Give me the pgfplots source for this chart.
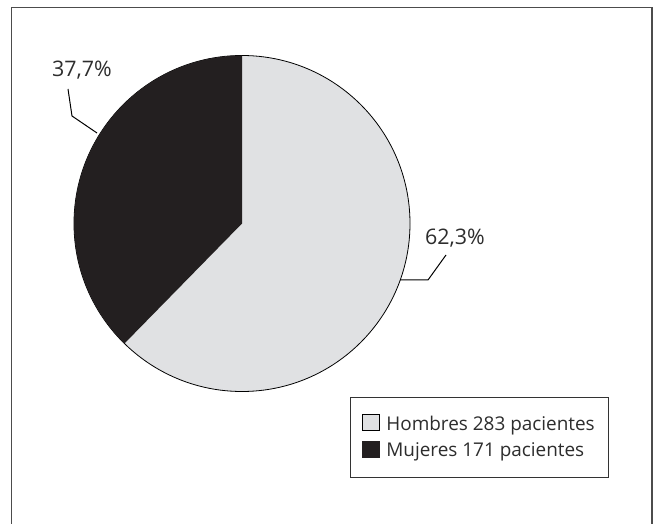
\documentclass[border=0pt]{standalone}
\usepackage{fontspec}
\setmainfont{Open Sans}
\usepackage{pgfplots}
\usepackage{pgfplotstable}
\pgfplotsset{compat=1.18}
\definecolor{lgray}{RGB}{224,225,227}
\definecolor{dblack}{RGB}{35,31,32}
\definecolor{txt}{RGB}{45,45,45}
\pgfplotstableread{
label value
Hombres 283
Mujeres 171
}\pietable
\begin{document}
\begin{tikzpicture}
\useasboundingbox (0bp,0bp) rectangle (656bp,524bp);
\draw[black!70, line width=1.6bp] (11.5bp,0bp) -- (11.5bp,516.5bp) -- (652bp,516.5bp) -- (652bp,0bp);
\pgfplotstablegetelem{0}{value}\of\pietable \let\vH\pgfplotsretval
\pgfplotstablegetelem{1}{value}\of\pietable \let\vM\pgfplotsretval
\pgfmathsetmacro\aM{\vM/(\vH+\vM)*360}
\pgfmathsetmacro\aEnd{90+\aM}
\begin{axis}[at={(242bp,300.5bp)}, anchor=center, scale only axis,
  width=336bp, height=336bp, xmin=-1, xmax=1, ymin=-1, ymax=1,
  hide axis, clip=false,
  legend style={at={(axis description cs:0.821,-0.015)}, anchor=north west,
    draw=black!80, line width=1bp, font=\fontsize{19}{23}\selectfont,
    text=txt, inner xsep=12bp, inner ysep=17bp, row sep=7bp,
    /tikz/every odd column/.append style={column sep=4bp}},
  legend cell align=left]
\filldraw[fill=lgray, draw=black, line width=0.8bp] (axis cs:0,0) circle[radius=168bp];
\fill[dblack] (axis cs:0,0) -- (axis cs:0,1) arc[start angle=90, end angle=\aEnd, radius=168bp] -- cycle;
\addlegendimage{legend image code/.code={\filldraw[fill=lgray,draw=black,line width=1bp] (0bp,-6.5bp) rectangle (17bp,9bp);}}
\addlegendentry{Hombres 283 pacientes}
\addlegendimage{legend image code/.code={\filldraw[fill=dblack,draw=dblack,line width=1bp] (0bp,-6.5bp) rectangle (17bp,9bp);}}
\addlegendentry{Mujeres 171 pacientes}
\end{axis}
\draw[black, line width=1bp] (68bp,435bp) -- (72bp,408bp) -- (97bp,391bp);
\draw[black, line width=1bp] (446bp,269bp) -- (428bp,244bp) -- (400bp,244bp);
\node[anchor=base west, inner sep=0pt, font=\fontsize{21.5}{24}\selectfont, text=txt] at (52bp,447bp) {37,7\%};
\node[anchor=base west, inner sep=0pt, font=\fontsize{21.5}{24}\selectfont, text=txt] at (425bp,279bp) {62,3\%};
\end{tikzpicture}
\end{document}
